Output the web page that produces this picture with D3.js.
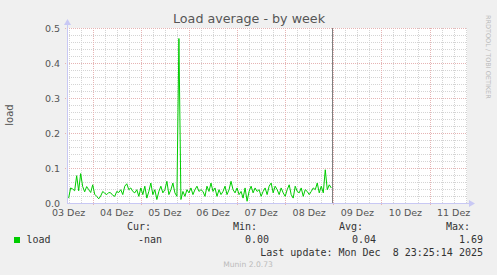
<!DOCTYPE html>
<html>
<head>
<meta charset="utf-8">
<script src="https://cdn.jsdelivr.net/npm/d3@7"></script>
<style>
  html, body { margin: 0; padding: 0; background: #f0f0f0; }
  svg { display: block; }
</style>
</head>
<body>
<svg id="chart" width="497" height="275"></svg>
<script>
// Series: hourly load values from 03 Dez 12:00 onwards
const loadValues = [
  0.014, 0.043, 0.040, 0.035, 0.078, 0.035, 0.084, 0.047, 0.032, 0.047,
  0.038, 0.030, 0.052, 0.025, 0.019, 0.012, 0.020, 0.033, 0.028, 0.024,
  0.030, 0.029, 0.022, 0.019, 0.033, 0.030, 0.038, 0.024, 0.048, 0.055,
  0.038, 0.043, 0.033, 0.029, 0.038, 0.019, 0.043, 0.024, 0.048, 0.014,
  0.033, 0.057, 0.024, 0.038, 0.010, 0.033, 0.048, 0.029, 0.038, 0.062,
  0.024, 0.038, 0.057, 0.029, 0.019, 0.470, 0.010, 0.033, 0.019, 0.038,
  0.029, 0.043, 0.024, 0.038, 0.048, 0.033, 0.038, 0.033, 0.019, 0.048,
  0.033, 0.057, 0.033, 0.043, 0.019, 0.038, 0.024, 0.033, 0.048, 0.024,
  0.038, 0.062, 0.038, 0.029, 0.043, 0.024, 0.033, 0.014, 0.043, 0.005,
  0.033, 0.048, 0.029, 0.043, 0.033, 0.038, 0.019, 0.033, 0.043, 0.024,
  0.048, 0.057, 0.029, 0.048, 0.038, 0.024, 0.043, 0.029, 0.019, 0.038,
  0.052, 0.024, 0.014, 0.048, 0.033, 0.029, 0.043, 0.019, 0.038, 0.033,
  0.024, 0.033, 0.043, 0.038, 0.057, 0.029, 0.048, 0.029, 0.095, 0.038,
  0.052, 0.043
];
const seriesStart = new Date(2025, 11, 3, 12, 0);
const nowTime = new Date(2025, 11, 8, 23, 25);

// Axis labels
const dayLabels = ["03 Dez", "04 Dez", "05 Dez", "06 Dez", "07 Dez", "08 Dez", "09 Dez", "10 Dez", "11 Dez"];
const yTicks = [0, 0.1, 0.2, 0.3, 0.4, 0.5];

// Legend
const seriesName = "load";
const statHeaders = ["Cur:", "Min:", "Avg:", "Max:"];
const statValues = ["-nan", "0.00", "0.04", "1.69"];
const lastUpdate = "Last update: Mon Dec  8 23:25:14 2025";

const data = loadValues.map((v, i) => ({ t: d3.timeHour.offset(seriesStart, i), v }));

const svg = d3.select("#chart");
const plotLeft = 67, plotRight = 467, plotTop = 28, plotBottom = 203;

const x = d3.scaleTime()
    .domain([new Date(2025, 11, 3, 11, 11), new Date(2025, 11, 11, 18, 41)])
    .range([plotLeft, plotRight]);
const y = d3.scaleLinear().domain([0, 0.5]).range([plotBottom, plotTop]);

const px = v => Math.round(v) + 0.5;

// Plot background
svg.append("rect")
    .attr("x", plotLeft).attr("y", plotTop)
    .attr("width", plotRight - plotLeft).attr("height", plotBottom - plotTop)
    .attr("fill", "#fff");

const grid = svg.append("g").attr("shape-rendering", "crispEdges");

// Minor grid
d3.range(0.02, 0.5001, 0.02).forEach(v => {
    grid.append("line")
        .attr("x1", plotLeft).attr("x2", plotRight)
        .attr("y1", px(y(v))).attr("y2", px(y(v)))
        .attr("stroke", "#d4d4d4").attr("stroke-dasharray", "1,1");
});
d3.timeHour.every(6).range(...x.domain()).forEach(t => {
    grid.append("line")
        .attr("x1", px(x(t))).attr("x2", px(x(t)))
        .attr("y1", plotTop).attr("y2", plotBottom)
        .attr("stroke", "#d4d4d4").attr("stroke-dasharray", "1,1");
});

// Major grid
yTicks.filter(v => v > 0).forEach(v => {
    grid.append("line")
        .attr("x1", plotLeft - 2).attr("x2", plotRight)
        .attr("y1", px(y(v))).attr("y2", px(y(v)))
        .attr("stroke", "#e6b4b4").attr("stroke-dasharray", "1,1");
});
d3.timeDay.range(...x.domain()).forEach(t => {
    grid.append("line")
        .attr("x1", px(x(t))).attr("x2", px(x(t)))
        .attr("y1", plotTop).attr("y2", plotBottom + 2)
        .attr("stroke", "#e6b4b4").attr("stroke-dasharray", "1,1");
});

// Load line
svg.append("path")
    .datum(data)
    .attr("fill", "none")
    .attr("stroke", "#00cc00")
    .attr("stroke-width", 1)
    .attr("d", d3.line().x(d => x(d.t)).y(d => y(d.v)));

// Now marker
svg.append("line")
    .attr("x1", px(x(nowTime))).attr("x2", px(x(nowTime)))
    .attr("y1", plotTop).attr("y2", plotBottom)
    .attr("stroke", "#808080")
    .attr("shape-rendering", "crispEdges");

// Axes with arrows
const axisColor = "#c8c8f4";
svg.append("line")
    .attr("x1", px(plotLeft)).attr("x2", px(plotLeft))
    .attr("y1", plotTop - 4).attr("y2", plotBottom + 1)
    .attr("stroke", axisColor).attr("shape-rendering", "crispEdges");
svg.append("line")
    .attr("x1", plotLeft).attr("x2", plotRight + 3)
    .attr("y1", px(plotBottom)).attr("y2", px(plotBottom))
    .attr("stroke", axisColor).attr("shape-rendering", "crispEdges");
svg.append("path")
    .attr("d", `M${plotLeft - 3},${plotTop - 3}L${plotLeft + 4},${plotTop - 3}L${plotLeft + 0.5},${plotTop - 9}Z`)
    .attr("fill", axisColor);
svg.append("path")
    .attr("d", `M${plotRight + 2},${plotBottom - 3}L${plotRight + 2},${plotBottom + 4}L${plotRight + 8},${plotBottom + 0.5}Z`)
    .attr("fill", axisColor);

// Y tick labels
svg.append("g")
    .selectAll("text")
    .data(yTicks)
    .join("text")
    .attr("x", 60)
    .attr("y", d => y(d) + 3.5)
    .attr("text-anchor", "end")
    .attr("font-family", "DejaVu Sans")
    .attr("font-size", 9.5)
    .attr("fill", "#555")
    .text(d3.format(".1f"));

// X tick labels, centered on noon of each day
svg.append("g")
    .selectAll("text")
    .data(dayLabels)
    .join("text")
    .attr("x", (d, i) => x(d3.timeHour.offset(new Date(2025, 11, 3 + i), 12)))
    .attr("y", 216)
    .attr("text-anchor", "middle")
    .attr("font-family", "DejaVu Sans")
    .attr("font-size", 9.5)
    .attr("fill", "#555")
    .text(d => d);

// Title and side texts
svg.append("text")
    .attr("x", 249).attr("y", 23)
    .attr("text-anchor", "middle")
    .attr("font-family", "DejaVu Sans")
    .attr("font-size", 12.7)
    .attr("fill", "#555")
    .text("Load average - by week");

svg.append("text")
    .attr("transform", "translate(13,115) rotate(-90)")
    .attr("text-anchor", "middle")
    .attr("font-family", "DejaVu Sans")
    .attr("font-size", 10)
    .attr("fill", "#555")
    .text("load");

svg.append("text")
    .attr("transform", "translate(486,15) rotate(90)")
    .attr("font-family", "DejaVu Sans")
    .attr("font-size", 6.5)
    .attr("fill", "#bbb")
    .text("RRDTOOL / TOBI OETIKER");

// Legend
const mono = "DejaVu Sans Mono";
const headerX = [151, 257, 363, 470];
const valueX = [162, 269, 376, 483];
svg.append("g")
    .selectAll("text")
    .data(statHeaders)
    .join("text")
    .attr("x", (d, i) => headerX[i]).attr("y", 230)
    .attr("text-anchor", "end")
    .attr("font-family", mono).attr("font-size", 10)
    .attr("fill", "#333")
    .text(d => d);

svg.append("rect")
    .attr("x", 14).attr("y", 237).attr("width", 6).attr("height", 6)
    .attr("fill", "#00cc00");
svg.append("text")
    .attr("x", 26.5).attr("y", 243)
    .attr("font-family", mono).attr("font-size", 10)
    .attr("fill", "#333")
    .text(seriesName);

svg.append("g")
    .selectAll("text")
    .data(statValues)
    .join("text")
    .attr("x", (d, i) => valueX[i]).attr("y", 243)
    .attr("text-anchor", "end")
    .attr("font-family", mono).attr("font-size", 10)
    .attr("fill", "#333")
    .text(d => d);

svg.append("text")
    .attr("x", 483).attr("y", 255.5)
    .attr("text-anchor", "end")
    .attr("font-family", mono).attr("font-size", 10)
    .attr("fill", "#333")
    .attr("xml:space", "preserve")
    .style("white-space", "pre")
    .text(lastUpdate);

svg.append("text")
    .attr("x", 248).attr("y", 266.5)
    .attr("text-anchor", "middle")
    .attr("font-family", "DejaVu Sans")
    .attr("font-size", 7.6)
    .attr("fill", "#bbb")
    .text("Munin 2.0.73");
</script>
</body>
</html>
